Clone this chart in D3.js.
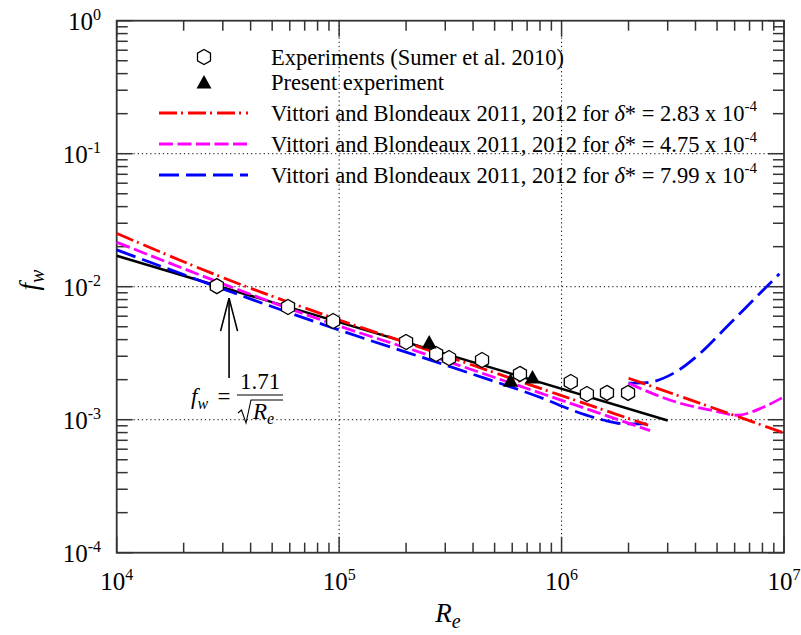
<!DOCTYPE html>
<html>
<head>
<meta charset="utf-8">
<script src="https://cdn.jsdelivr.net/npm/d3@7"></script>
<style>
body { margin: 0; background: #fff; }
text { font-family: "Liberation Serif", "Times New Roman", serif; fill: #000; }
</style>
</head>
<body>
<svg id="chart" width="801" height="635"></svg>
<script>
// Experiments (Sumer et al. 2010)
const sumerRe = [2.82e4, 5.89e4, 9.4e4, 2.0e5, 2.73e5, 3.12e5, 4.39e5, 6.5e5, 1.10e6, 1.30e6, 1.60e6, 1.99e6];
const sumerFw = [1.01e-2, 7.04e-3, 5.52e-3, 3.84e-3, 3.12e-3, 2.91e-3, 2.81e-3, 2.21e-3, 1.92e-3, 1.56e-3, 1.59e-3, 1.59e-3];

// Present experiment
const presentRe = [2.54e5, 5.9e5, 7.4e5];
const presentFw = [3.77e-3, 1.95e-3, 2.06e-3];

// fw = 1.71 / sqrt(Re), end points of the straight line
const fitRe = [1e4, 3e6];
const fitFw = [0.0171, 9.87e-4];

// Vittori and Blondeaux, delta* = 2.83e-4
const red1Re = [1e4, 2.82e4, 1e5, 2.15e5, 9.86e5, 2.45e6];
const red1Fw = [0.0252, 0.0122, 5.62e-3, 3.65e-3, 1.53e-3, 9.1e-4];
const red2Re = [2.0e6, 6.35e6, 1e7];
const red2Fw = [2.05e-3, 1.04e-3, 7.94e-4];

// delta* = 4.75e-4
const mag1Re = [1e4, 1e5, 2.15e5, 9.86e5, 2.5e6];
const mag1Fw = [0.0216, 5.06e-3, 3.34e-3, 1.41e-3, 8.27e-4];
const mag2Re = [2.0e6, 3.41e6, 4.82e6, 6.14e6, 8.07e6, 1e7];
const mag2Fw = [1.88e-3, 1.33e-3, 1.17e-3, 1.08e-3, 1.24e-3, 1.49e-3];

// delta* = 7.99e-4
const blue1Re = [1e4, 1e5, 3.89e5, 8.57e5, 1.13e6, 1.54e6, 1.96e6, 2.41e6];
const blue1Fw = [0.0189, 4.72e-3, 2.23e-3, 1.41e-3, 1.17e-3, 9.95e-4, 9.29e-4, 9.29e-4];
const blue2Re = [2.0e6, 2.41e6, 3.18e6, 4.20e6, 5.53e6, 7.28e6, 9.53e6];
const blue2Fw = [1.88e-3, 1.90e-3, 2.23e-3, 3.16e-3, 5.0e-3, 7.94e-3, 1.25e-2];

const xMajor = [1e4, 1e5, 1e6, 1e7];
const xExp = ["4", "5", "6", "7"];
const yMajor = [1e-4, 1e-3, 1e-2, 1e-1, 1e0];
const yExp = ["-4", "-3", "-2", "-1", "0"];

const legendLabels = [
    "Experiments (Sumer et al. 2010)",
    "Present experiment"
];
const deltaValues = ["2.83", "4.75", "7.99"];

// annotation arrow
const arrowRe = 3.2e4;
const arrowTipFw = 8.2e-3;
const arrowTailFw = 2.06e-3;

const pLeft = 116.7, pRight = 784, pTop = 20.7, pBottom = 552.7;

const svg = d3.select("#chart");

const x = d3.scaleLog().domain([1e4, 1e7]).range([pLeft, pRight]);
const y = d3.scaleLog().domain([1e-4, 1e0]).range([pBottom, pTop]);

const isMajor = d => Math.abs(Math.log10(d) - Math.round(Math.log10(d))) < 1e-9;

// dotted grid
svg.append("g").selectAll("line")
    .data(xMajor.slice(1, -1))
    .enter().append("line")
    .attr("x1", d => x(d)).attr("x2", d => x(d))
    .attr("y1", pTop).attr("y2", pBottom)
    .attr("stroke", "#000").attr("stroke-width", 1)
    .attr("stroke-dasharray", "1.2,3");
svg.append("g").selectAll("line")
    .data(yMajor.slice(1, -1))
    .enter().append("line")
    .attr("x1", pLeft).attr("x2", pRight)
    .attr("y1", d => y(d)).attr("y2", d => y(d))
    .attr("stroke", "#000").attr("stroke-width", 1)
    .attr("stroke-dasharray", "1.2,3");

// ticks, all pointing inward
const frameColor = "#333";
const xt = x.ticks();
const yt = y.ticks();
const ticks = svg.append("g").attr("stroke", frameColor).attr("stroke-width", 1.5);
xt.forEach(d => {
    const len = isMajor(d) ? 16 : 10;
    ticks.append("line").attr("x1", x(d)).attr("x2", x(d)).attr("y1", pBottom).attr("y2", pBottom - len);
    ticks.append("line").attr("x1", x(d)).attr("x2", x(d)).attr("y1", pTop).attr("y2", pTop + len);
});
yt.forEach(d => {
    const len = isMajor(d) ? 16 : 11;
    ticks.append("line").attr("x1", pLeft).attr("x2", pLeft + len).attr("y1", y(d)).attr("y2", y(d));
    ticks.append("line").attr("x1", pRight).attr("x2", pRight - len).attr("y1", y(d)).attr("y2", y(d));
});

svg.append("rect")
    .attr("x", pLeft).attr("y", pTop)
    .attr("width", pRight - pLeft).attr("height", pBottom - pTop)
    .attr("fill", "none").attr("stroke", frameColor).attr("stroke-width", 1.8);

// tick labels
xMajor.forEach((d, i) => {
    const t = svg.append("text")
        .attr("x", x(d)).attr("y", 590)
        .attr("text-anchor", "middle")
        .style("font-size", "25px");
    t.append("tspan").text("10");
    t.append("tspan").attr("dy", -10).style("font-size", "16px").text(xExp[i]);
});
yMajor.forEach((d, i) => {
    const t = svg.append("text")
        .attr("x", 101).attr("y", y(d) + 9.5)
        .attr("text-anchor", "end")
        .style("font-size", "25px");
    t.append("tspan").text("10");
    t.append("tspan").attr("dy", -10).style("font-size", "16px").text(yExp[i]);
});

// axis titles
const xt1 = svg.append("text")
    .attr("x", 448).attr("y", 622)
    .attr("text-anchor", "middle")
    .style("font-size", "27px").style("font-style", "italic");
xt1.append("tspan").text("R");
xt1.append("tspan").attr("dy", 6).style("font-size", "20px").text("e");

const yt1 = svg.append("text")
    .attr("transform", "translate(38,280) rotate(-90)")
    .attr("text-anchor", "middle")
    .style("font-size", "27px").style("font-style", "italic");
yt1.append("tspan").text("f");
yt1.append("tspan").attr("dy", 6).style("font-size", "20px").text("w");

// curves
const line = d3.line()
    .x(d => x(d[0]))
    .y(d => y(d[1]))
    .curve(d3.curveMonotoneX);

function drawCurve(re, fw, color, dash, width) {
    svg.append("path")
        .datum(re.map((r, i) => [r, fw[i]]))
        .attr("d", line)
        .attr("fill", "none")
        .attr("stroke", color)
        .attr("stroke-width", width)
        .attr("stroke-dasharray", dash);
}

const redDash = "18,4,2,5";
const magDash = "14,4.5";
const blueDash = "20,7";

drawCurve(fitRe, fitFw, "#000", null, 2.5);
drawCurve(blue1Re, blue1Fw, "#0000ff", blueDash, 2.8);
drawCurve(blue2Re, blue2Fw, "#0000ff", blueDash, 2.8);
drawCurve(mag1Re, mag1Fw, "#ff00ff", magDash, 2.8);
drawCurve(mag2Re, mag2Fw, "#ff00ff", magDash, 2.8);
drawCurve(red1Re, red1Fw, "#ff0000", redDash, 2.8);
drawCurve(red2Re, red2Fw, "#ff0000", redDash, 2.8);

// markers
const hexPath = (() => {
    const r = 7.5;
    const pts = d3.range(6).map(k => {
        const a = (-90 + 60 * k) * Math.PI / 180;
        return [r * Math.cos(a), r * Math.sin(a)];
    });
    return "M" + pts.map(p => p.join(",")).join("L") + "Z";
})();
const triPath = "M0,-8L7.5,5.5L-7.5,5.5Z";

svg.append("g").selectAll("path")
    .data(sumerRe.map((r, i) => [r, sumerFw[i]]))
    .enter().append("path")
    .attr("d", hexPath)
    .attr("transform", d => `translate(${x(d[0])},${y(d[1])})`)
    .attr("fill", "#fff").attr("stroke", "#000").attr("stroke-width", 1.3);

svg.append("g").selectAll("path")
    .data(presentRe.map((r, i) => [r, presentFw[i]]))
    .enter().append("path")
    .attr("d", triPath)
    .attr("transform", d => `translate(${x(d[0])},${y(d[1])})`)
    .attr("fill", "#000");

// annotation: arrow and formula
const ax = x(arrowRe), tipY = y(arrowTipFw), tailY = y(arrowTailFw);
const ann = svg.append("g").attr("stroke", "#000").attr("stroke-width", 1.6).attr("fill", "none");
ann.append("line").attr("x1", ax).attr("x2", ax).attr("y1", tipY).attr("y2", tailY);
ann.append("path").attr("d", `M${ax - 8.5},${tipY + 33}L${ax},${tipY}L${ax + 8.5},${tipY + 33}`);

const fx = 191, fy = 404;
const f1 = svg.append("text").attr("x", fx).attr("y", fy)
    .style("font-size", "23px").style("font-style", "italic");
f1.append("tspan").text("f");
f1.append("tspan").attr("dy", 5).style("font-size", "16px").text("w");
svg.append("text").attr("x", 224).attr("y", fy).attr("text-anchor", "middle")
    .style("font-size", "23px").text("=");
svg.append("text").attr("x", 260).attr("y", 389).attr("text-anchor", "middle")
    .style("font-size", "23px").text("1.71");
ann.append("line").attr("x1", 237).attr("x2", 283).attr("y1", 395).attr("y2", 395).attr("stroke-width", 1.2);
ann.append("path").attr("d", "M238,413L241.5,410L246,423L251,400L283,400").attr("stroke-width", 1.1);
const f2 = svg.append("text").attr("x", 253).attr("y", 419)
    .style("font-size", "23px").style("font-style", "italic");
f2.append("tspan").text("R");
f2.append("tspan").attr("dy", 5).style("font-size", "16px").text("e");

// legend
const rowY = [57, 82, 113, 144, 175];
const textX = 271;
svg.append("path").attr("d", hexPath)
    .attr("transform", `translate(204,${rowY[0]})`)
    .attr("fill", "#fff").attr("stroke", "#000").attr("stroke-width", 1.3);
svg.append("path").attr("d", triPath)
    .attr("transform", `translate(204,${rowY[1] + 1})`)
    .attr("fill", "#000");
legendLabels.forEach((s, i) => {
    svg.append("text").attr("x", textX).attr("y", rowY[i] + 8)
        .style("font-size", "22.5px").text(s);
});
const legColors = ["#ff0000", "#ff00ff", "#0000ff"];
const legDash = [redDash, magDash, blueDash];
deltaValues.forEach((v, i) => {
    const yy = rowY[i + 2];
    svg.append("line").attr("x1", 159).attr("x2", 248).attr("y1", yy).attr("y2", yy)
        .attr("stroke", legColors[i]).attr("stroke-width", 2.8)
        .attr("stroke-dasharray", legDash[i]);
    const t = svg.append("text").attr("x", textX).attr("y", yy + 8)
        .style("font-size", "22.5px");
    t.append("tspan").text("Vittori and Blondeaux 2011, 2012 for ");
    t.append("tspan").style("font-style", "italic").text("\u03b4");
    t.append("tspan").text("* = " + v + " x 10");
    t.append("tspan").attr("dy", -10).style("font-size", "15px").text("-4");
});
</script>
</body>
</html>
